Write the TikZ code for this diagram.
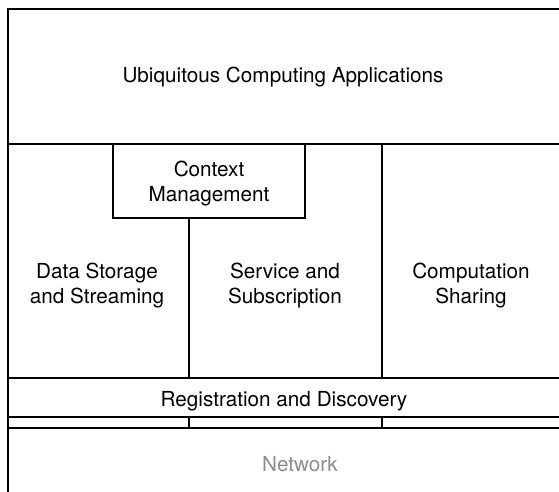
\documentclass[tikz,border=0pt]{standalone}
\usepackage{fontspec}
\setmainfont{TeX Gyre Heros}
\usepackage{xcolor}
\usepackage{tikz}

\tikzset{
	frame/.style={line width=2.2pt, line cap=rect},
	lbl/.style={align=center, inner sep=0pt, font=\fontsize{20.7}{25}\selectfont}
}

\begin{document}
\begin{tikzpicture}[x=1pt, y=-1pt]
		\useasboundingbox (0, 0) rectangle (559, 491);
		\clip (0, 0) rectangle (559, 491);
		
		% layers
		\draw[frame] (8, 500) -- (8, 9) -- (570, 9);
		\draw[frame] (8, 144) -- (570, 144);
		\draw[frame] (8, 378) -- (570, 378);
		\draw[frame] (8, 417) -- (570, 417);
		\draw[frame] (8, 428) -- (570, 428);
		
		% middle columns
		\draw[frame] (113, 144) rectangle (305, 218);
		\draw[frame] (189, 218) -- (189, 378);
		\draw[frame] (382, 144) -- (382, 378);
		\draw[frame] (189, 417) -- (189, 428);
		\draw[frame] (382, 417) -- (382, 428);
		
		% labels
		\node[lbl] (apps) at (283, 77) {Ubiquitous Computing Applications};
		\node[lbl] (context) at (209, 184) {Context\\Management};
		\node[lbl] (storage) at (97, 286) {Data Storage\\and Streaming};
		\node[lbl] (service) at (285, 286) {Service and\\Subscription};
		\node[lbl] (sharing) at (471, 286) {Computation\\Sharing};
		\node[lbl] (registry) at (284, 401) {Registration and Discovery};
		\node[lbl, text=black!45] (network) at (300, 464) {Network};
	\end{tikzpicture}
\end{document}
